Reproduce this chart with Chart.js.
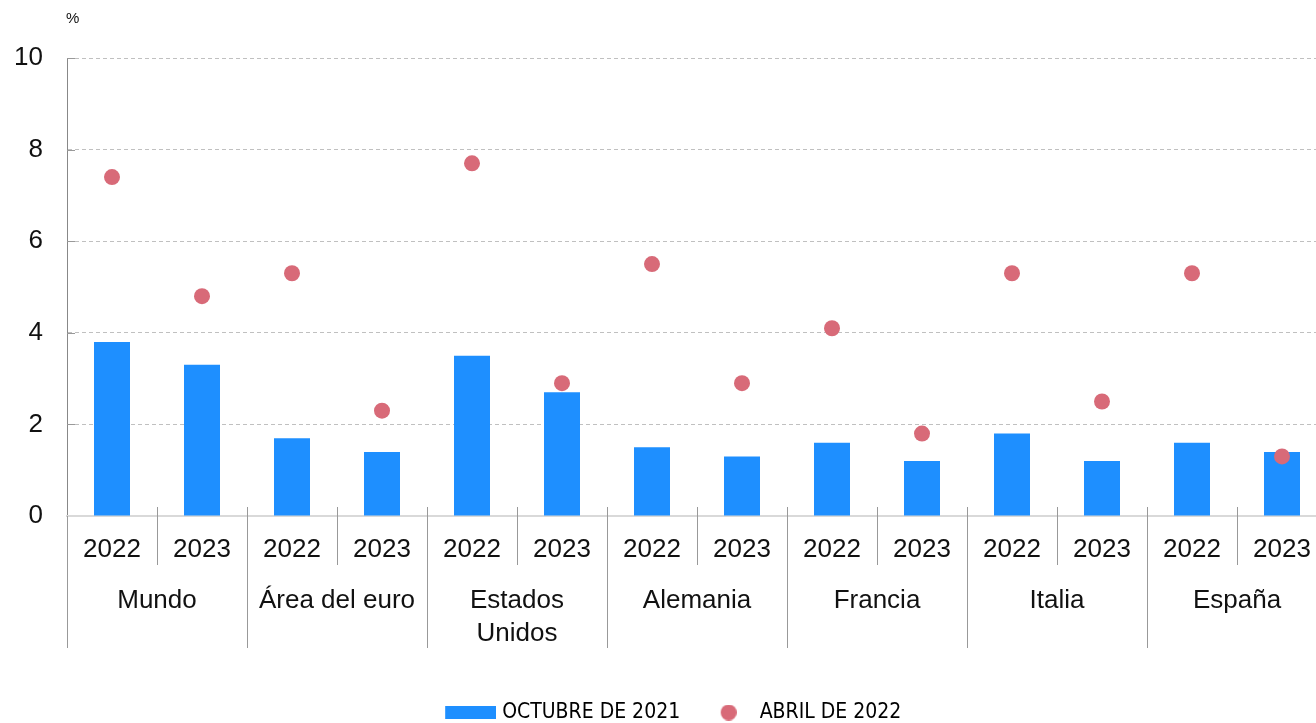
<!DOCTYPE html>
<html><head><meta charset="utf-8">
<script src="https://cdn.jsdelivr.net/npm/chart.js@4"></script>
<style>html,body{margin:0;padding:0;background:#fff;overflow:hidden;width:1316px;height:723px}#wrap{width:1327px;height:723px;position:relative}</style>
</head><body><div id="wrap"><canvas id="c"></canvas></div>
<script>
const countries = ['Mundo', 'Área del euro', ['Estados', 'Unidos'], 'Alemania', 'Francia', 'Italia', 'España'];
const years = ['2022', '2023'];
const octubre2021 = [3.8, 3.3, 1.7, 1.4, 3.5, 2.7, 1.5, 1.3, 1.6, 1.2, 1.8, 1.2, 1.6, 1.4];
const abril2022 = [7.4, 4.8, 5.3, 2.3, 7.7, 2.9, 5.5, 2.9, 4.1, 1.8, 5.3, 2.5, 5.3, 1.3];
const seriesNames = ['OCTUBRE DE 2021', 'ABRIL DE 2022'];
const yMin = 0, yMax = 10, yStep = 2;
const unitLabel = '%';

const BLUE = '#1e8fff';
const RED = '#d86a78';
const FONT = '"Liberation Sans", Arial, sans-serif';
const NARROW = '"Liberation Sans Narrow", "DejaVu Sans Condensed", sans-serif';
const LEG_FS = 21;
const W = 51, H = LEG_FS / 2;

const yearLabels = countries.flatMap(() => years);

function rectImg() {
  const w = Math.round(W + 2 * H - 12);
  const c = document.createElement('canvas'); c.width = w; c.height = 13;
  const x = c.getContext('2d'); x.fillStyle = BLUE; x.fillRect(w - 51, 0, 51, 13); return c;
}
function dotImg() {
  const w = Math.round(W + 2 * H - 46);
  const c = document.createElement('canvas'); c.width = w; c.height = 16;
  const x = c.getContext('2d'); x.fillStyle = RED; x.beginPath(); x.arc(w - 8, 8, 8, 0, Math.PI * 2); x.fill(); return c;
}
const legendImgs = [rectImg(), dotImg()];

const axisDeco = {
  id: 'axisDeco',
  afterDraw(chart) {
    const ctx = chart.ctx;
    const xs = chart.scales.x, ys = chart.scales.y, area = chart.chartArea;
    ctx.save();
    // unit label
    ctx.font = '15px ' + FONT;
    ctx.fillStyle = '#111';
    ctx.textBaseline = 'middle';
    ctx.textAlign = 'left';
    ctx.fillText(unitLabel, area.left - 1, 19);
    // inward y tick marks
    ctx.strokeStyle = '#999';
    ctx.lineWidth = 1;
    ys.ticks.forEach((t) => {
      if (t.value === 0) return;
      const py = Math.round(ys.getPixelForValue(t.value)) + 0.5;
      ctx.beginPath(); ctx.moveTo(area.left, py); ctx.lineTo(area.left + 8, py); ctx.stroke();
    });
    // category separators (from the x scale)
    const n = yearLabels.length;
    for (let i = 0; i < n; i++) {
      const px = Math.round(xs.getPixelForValue(i - 0.5)) + 0.5;
      const major = i % years.length === 0;
      const top = i === 0 ? area.bottom : area.bottom - 9;
      const bottom = major ? xs.bottom + 83 : xs.bottom;
      ctx.beginPath(); ctx.moveTo(px, top); ctx.lineTo(px, bottom); ctx.stroke();
    }
    ctx.restore();
  }
};

new Chart(document.getElementById('c'), {
  type: 'bar',
  data: {
    labels: yearLabels,
    datasets: [
      { type: 'bar', label: seriesNames[0], data: octubre2021, backgroundColor: BLUE,
        barPercentage: 0.4, categoryPercentage: 1, order: 2 },
      { type: 'line', label: seriesNames[1], data: abril2022, showLine: false,
        pointRadius: 8, pointHoverRadius: 8, pointBackgroundColor: RED, pointBorderWidth: 0,
        borderColor: RED, backgroundColor: RED, order: 1 }
    ]
  },
  options: {
    responsive: true, maintainAspectRatio: false, animation: false, devicePixelRatio: 1,
    layout: { autoPadding: false, padding: { top: 58, left: 15, right: 0, bottom: -10 } },
    plugins: {
      tooltip: { enabled: false },
      legend: {
        position: 'bottom',
        labels: {
          usePointStyle: true, pointStyleWidth: W, boxHeight: LEG_FS,
          font: { family: NARROW, size: LEG_FS }, color: '#111', padding: 18,
          generateLabels: () => seriesNames.map((t, i) => ({
            text: t, datasetIndex: i, pointStyle: legendImgs[i],
            fillStyle: i ? RED : BLUE, strokeStyle: 'transparent', lineWidth: 0, hidden: false
          }))
        }
      }
    },
    scales: {
      y: {
        min: yMin, max: yMax,
        afterFit: (s) => { s.width = 52; },
        ticks: { stepSize: yStep, font: { family: FONT, size: 26 }, color: '#111', padding: 24 },
        grid: { color: (c) => c.tick && c.tick.value === 0 ? 'rgba(0,0,0,0)' : '#c0c0c0', drawTicks: false },
        border: { color: '#888', width: 1, dash: [4, 3] }
      },
      x: {
        type: 'category', position: 'bottom', weight: 0, offset: true,
        afterFit: (s) => { s.height = 49; s.paddingLeft = 0; s.paddingRight = 0; },
        grid: { display: false, drawTicks: false },
        border: { display: true, color: '#d9d9d9', width: 2 },
        ticks: { font: { family: FONT, size: 26, lineHeight: 1.25 }, color: '#111', padding: 18, autoSkip: false, maxRotation: 0 }
      },
      x2: {
        type: 'category', position: 'bottom', weight: 1, offset: true, labels: countries,
        afterFit: (s) => { s.height = 119; s.paddingLeft = 0; s.paddingRight = 0; },
        grid: { display: false, drawTicks: false },
        border: { display: false },
        ticks: { font: { family: FONT, size: 26, lineHeight: 1.25 }, color: '#111', padding: 20, autoSkip: false, maxRotation: 0 }
      }
    }
  },
  plugins: [axisDeco]
});
</script></body></html>
